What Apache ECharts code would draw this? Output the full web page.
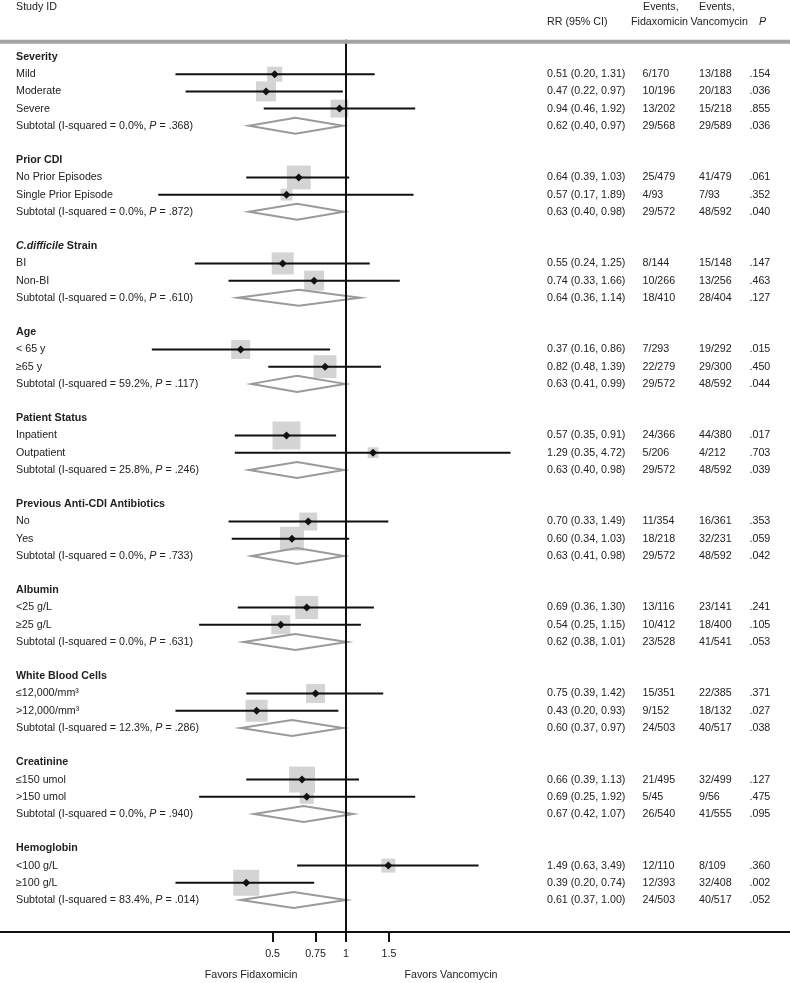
<!DOCTYPE html>
<html><head><meta charset="utf-8">
<script src="https://cdn.jsdelivr.net/npm/echarts@6/dist/echarts.min.js"></script>
<style>html,body{margin:0;padding:0;background:#fff}#c{width:790px;height:983px}</style>
</head><body><div id="c"></div>
<script>
const sectionTitles = ['Severity','Prior CDI','C.difficile Strain','Age','Patient Status','Previous Anti-CDI Antibiotics','Albumin','White Blood Cells','Creatinine','Hemoglobin'];
const subgroupLabels = [['Mild','Moderate','Severe'],['No Prior Episodes','Single Prior Episode'],['BI','Non-BI'],['< 65 y','≥65 y'],['Inpatient','Outpatient'],['No','Yes'],['<25 g/L','≥25 g/L'],['≤12,000/mm³','>12,000/mm³'],['≤150 umol','>150 umol'],['<100 g/L','≥100 g/L']];
const subgroupRR = [[0.51,0.47,0.94],[0.64,0.57],[0.55,0.74],[0.37,0.82],[0.57,1.29],[0.70,0.60],[0.69,0.54],[0.75,0.43],[0.66,0.69],[1.49,0.39]];
const subgroupLo = [[0.20,0.22,0.46],[0.39,0.17],[0.24,0.33],[0.16,0.48],[0.35,0.35],[0.33,0.34],[0.36,0.25],[0.39,0.20],[0.39,0.25],[0.63,0.20]];
const subgroupHi = [[1.31,0.97,1.92],[1.03,1.89],[1.25,1.66],[0.86,1.39],[0.91,4.72],[1.49,1.03],[1.30,1.15],[1.42,0.93],[1.13,1.92],[3.49,0.74]];
const subgroupWeight = [[29,51,41],[73,18],[62,51],[46,67],[100,15],[41,73],[67,46],[46,62],[86,25],[25,86]];
const subgroupEventsFidax = [['6/170','10/196','13/202'],['25/479','4/93'],['8/144','10/266'],['7/293','22/279'],['24/366','5/206'],['11/354','18/218'],['13/116','10/412'],['15/351','9/152'],['21/495','5/45'],['12/110','12/393']];
const subgroupEventsVanco = [['13/188','20/183','15/218'],['41/479','7/93'],['15/148','13/256'],['19/292','29/300'],['44/380','4/212'],['16/361','32/231'],['23/141','18/400'],['22/385','18/132'],['32/499','9/56'],['8/109','32/408']];
const subgroupP = [[0.154,0.036,0.855],[0.061,0.352],[0.147,0.463],[0.015,0.450],[0.017,0.703],[0.353,0.059],[0.241,0.105],[0.371,0.027],[0.127,0.475],[0.360,0.002]];
const subtotalRR = [0.62,0.63,0.64,0.63,0.63,0.63,0.62,0.60,0.67,0.61];
const subtotalLo = [0.40,0.40,0.36,0.41,0.40,0.41,0.38,0.37,0.42,0.37];
const subtotalHi = [0.97,0.98,1.14,0.99,0.98,0.98,1.01,0.97,1.07,1.00];
const subtotalISquared = [0.0,0.0,0.0,59.2,25.8,0.0,0.0,12.3,0.0,83.4];
const subtotalHetP = [0.368,0.872,0.610,0.117,0.246,0.733,0.631,0.286,0.940,0.014];
const subtotalEventsFidax = ['29/568','29/572','18/410','29/572','29/572','29/572','23/528','24/503','26/540','24/503'];
const subtotalEventsVanco = ['29/589','48/592','28/404','48/592','48/592','48/592','41/541','40/517','41/555','40/517'];
const subtotalP = [0.036,0.040,0.127,0.044,0.039,0.042,0.053,0.038,0.095,0.052];
const xTicks = [0.5, 0.75, 1, 1.5];

const FONT = '"Liberation Sans", Arial, sans-serif';
const FS = 10.7;
const TXT = '#222';
const X_MIN = 0.0382, X_MAX = 65.9;
const ROW_MIN = -1, ROW_MAX = 50.86;
const BOX_SCALE = 2.8;

// build rows
const rows = [];
sectionTitles.forEach((t, s) => {
  if (s > 0) rows.push({kind: 'blank'});
  rows.push({kind: 'header', s});
  subgroupLabels[s].forEach((l, j) => rows.push({kind: 'study', s, j}));
  rows.push({kind: 'total', s});
});

const fmtP = v => v.toFixed(3).replace(/^0/, '');
const fmtCI = (r, l, h) => r.toFixed(2) + ' (' + l.toFixed(2) + ', ' + h.toFixed(2) + ')';

const studyData = [], totalData = [];
rows.forEach((r, i) => {
  if (r.kind === 'study') studyData.push([subgroupRR[r.s][r.j], i, subgroupLo[r.s][r.j], subgroupHi[r.s][r.j], subgroupWeight[r.s][r.j]]);
  if (r.kind === 'total') totalData.push([subtotalRR[r.s], i, subtotalLo[r.s], subtotalHi[r.s]]);
});

const rich = {
  n: {fontSize: FS, fontFamily: FONT, color: TXT},
  b: {fontSize: FS, fontFamily: FONT, color: TXT, fontWeight: 'bold'},
  i: {fontSize: FS, fontFamily: FONT, color: TXT, fontStyle: 'italic'},
  bi: {fontSize: FS, fontFamily: FONT, color: TXT, fontWeight: 'bold', fontStyle: 'italic'}
};

const colLabel = r => {
  if (r.kind === 'header') {
    const t = sectionTitles[r.s];
    if (t.startsWith('C.difficile')) return '{bi|C.difficile}{b|' + t.slice(11) + '}';
    return '{b|' + t + '}';
  }
  if (r.kind === 'study') return '{n|' + subgroupLabels[r.s][r.j] + '}';
  if (r.kind === 'total') return '{n|Subtotal (I-squared = ' + subtotalISquared[r.s].toFixed(1) + '%, }{i|P}{n| = ' + fmtP(subtotalHetP[r.s]) + ')}';
  return '';
};
const colRR = r => r.kind === 'study' ? fmtCI(subgroupRR[r.s][r.j], subgroupLo[r.s][r.j], subgroupHi[r.s][r.j])
  : r.kind === 'total' ? fmtCI(subtotalRR[r.s], subtotalLo[r.s], subtotalHi[r.s]) : '';
const colEF = r => r.kind === 'study' ? subgroupEventsFidax[r.s][r.j] : r.kind === 'total' ? subtotalEventsFidax[r.s] : '';
const colEV = r => r.kind === 'study' ? subgroupEventsVanco[r.s][r.j] : r.kind === 'total' ? subtotalEventsVanco[r.s] : '';
const colP = r => r.kind === 'study' ? fmtP(subgroupP[r.s][r.j]) : r.kind === 'total' ? fmtP(subtotalP[r.s]) : '';

function labelAxis(fn, x, useRich) {
  return {
    type: 'value', inverse: true, min: ROW_MIN, max: ROW_MAX, interval: 1,
    position: 'left', offset: -x,
    axisLine: {show: false, onZero: false}, axisTick: {show: false}, splitLine: {show: false},
    axisLabel: {
      inside: true, margin: 0, align: 'left', showMinLabel: true, showMaxLabel: true,
      fontSize: FS, fontFamily: FONT, color: TXT,
      rich: useRich ? rich : undefined,
      formatter: v => { const r = rows[Math.round(v)]; return (r && Math.abs(v - Math.round(v)) < 1e-6) ? fn(r) : ''; }
    }
  };
}

const txt = (text, x, y, extra) => Object.assign({
  type: 'text', x, y, z: 100,
  style: Object.assign({text, fill: TXT, fontSize: FS, fontFamily: FONT, verticalAlign: 'middle', align: 'left'}, extra || {})
});

const chart = echarts.init(document.getElementById('c'), null, {renderer: 'canvas'});
chart.setOption({
  animation: false,
  backgroundColor: '#fff',
  grid: {left: 0, right: 0, top: 39.8, bottom: 51, containLabel: false},
  xAxis: {
    type: 'log', logBase: 10, min: X_MIN, max: X_MAX, position: 'bottom',
    axisLine: {show: true, onZero: false, lineStyle: {color: '#111', width: 2}},
    axisTick: {show: true, customValues: xTicks, length: 10, lineStyle: {color: '#111', width: 2}},
    axisLabel: {customValues: xTicks, margin: 17, fontSize: FS, fontFamily: FONT, color: TXT,
      formatter: v => String(+(+v).toFixed(2))},
    splitLine: {show: false}, minorTick: {show: false}
  },
  yAxis: [
    labelAxis(colLabel, 16, true),
    labelAxis(colRR, 547, false),
    labelAxis(colEF, 642.5, false),
    labelAxis(colEV, 699, false),
    labelAxis(colP, 749.5, false)
  ],
  graphic: [
    {type: 'line', z: 100, shape: {x1: 0, y1: 41.7, x2: 790, y2: 41.7}, style: {stroke: '#a3a3a3', lineWidth: 4}},
    txt('Study ID', 16, 7),
    txt('Events,', 643, 7),
    txt('Events,', 699, 7),
    txt('RR (95% CI)', 547, 22),
    txt('Fidaxomicin', 631, 22),
    txt('Vancomycin', 690.5, 22),
    txt('P', 759, 22, {fontStyle: 'italic'}),
    txt('Favors Fidaxomicin', 251, 975, {align: 'center'}),
    txt('Favors Vancomycin', 451, 975, {align: 'center'})
  ],
  series: [
    {
      type: 'custom', name: 'studies', xAxisIndex: 0, yAxisIndex: 0,
      encode: {x: 0, y: 1}, data: studyData, silent: true,
      renderItem: (params, api) => {
        const row = api.value(1);
        const c = api.coord([api.value(0), row]);
        const l = api.coord([api.value(2), row]);
        const h = api.coord([api.value(3), row]);
        const side = BOX_SCALE * Math.sqrt(api.value(4));
        const d = 4;
        return {type: 'group', children: [
          {type: 'rect', shape: {x: c[0] - side / 2, y: c[1] - side / 2, width: side, height: side}, style: {fill: '#d4d4d4'}},
          {type: 'line', shape: {x1: l[0], y1: l[1], x2: h[0], y2: h[1]}, style: {stroke: '#111', lineWidth: 2}},
          {type: 'polygon', shape: {points: [[c[0] - d, c[1]], [c[0], c[1] - d], [c[0] + d, c[1]], [c[0], c[1] + d]]}, style: {fill: '#111'}}
        ]};
      },
      markLine: {
        silent: true, symbol: ['none', 'none'], label: {show: false},
        lineStyle: {color: '#111', width: 2, type: 'solid'},
        data: [{xAxis: 1}]
      }
    },
    {
      type: 'custom', name: 'subtotals', xAxisIndex: 0, yAxisIndex: 0,
      encode: {x: 0, y: 1}, data: totalData, silent: true,
      renderItem: (params, api) => {
        const row = api.value(1);
        const c = api.coord([api.value(0), row]);
        const l = api.coord([api.value(2), row]);
        const h = api.coord([api.value(3), row]);
        const hh = 8;
        return {type: 'polygon', shape: {points: [[l[0], l[1]], [c[0], c[1] - hh], [h[0], h[1]], [c[0], c[1] + hh]]},
          style: {fill: 'none', stroke: '#9a9a9a', lineWidth: 2}};
      }
    }
  ]
});
</script>
</body></html>
